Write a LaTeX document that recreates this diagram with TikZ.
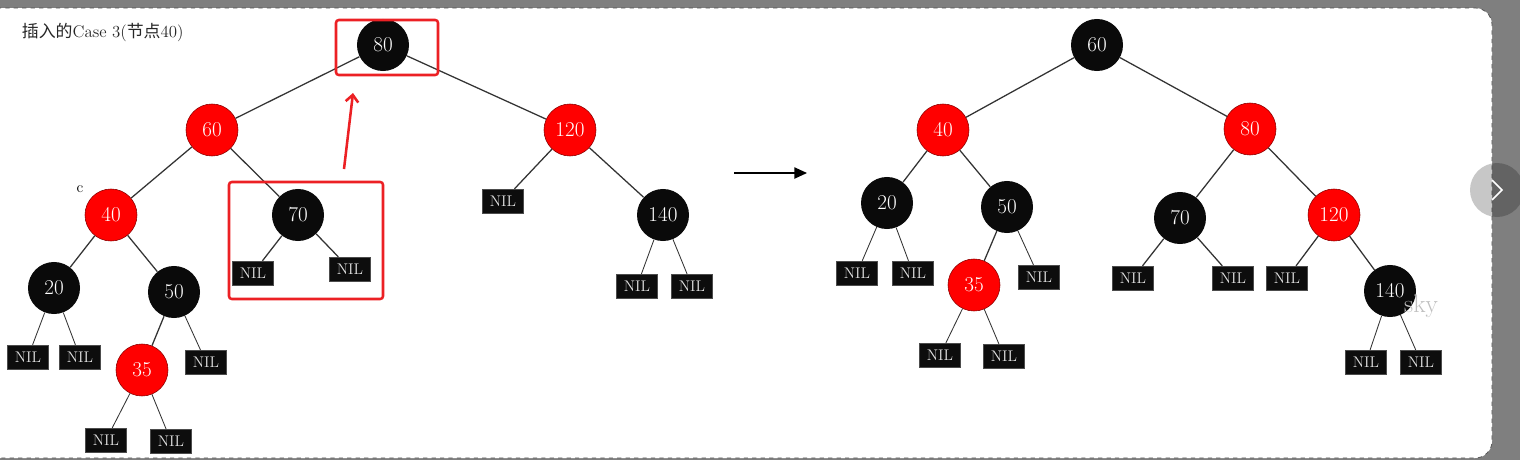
\documentclass[tikz,border=0pt]{standalone}
\usepackage{fontspec}
\newfontfamily\cjk{Noto Sans CJK SC}
\usetikzlibrary{arrows.meta}
\definecolor{rbred}{HTML}{FF0000}
\definecolor{boxred}{HTML}{EC2024}
\definecolor{edgegray}{HTML}{333333}
\definecolor{bggray}{HTML}{7F7F7F}
\tikzset{rbnode/.style = {circle, minimum size=1.3cm, inner sep=0pt, text=white, font=\fontsize{15}{15}\selectfont}}
\tikzset{blacknode/.style = {rbnode, fill=black!96}}
\tikzset{rednode/.style = {rbnode, fill=rbred, draw=red!55!black, line width=0.4pt}}
\tikzset{nilnode/.style = {fill=black!95, draw=black!70, line width=0.3pt, text=white!88!black, minimum width=29pt, minimum height=17pt, inner sep=0pt, font=\fontsize{11}{11}\selectfont}}
\tikzset{treeedge/.style = {draw=edgegray, line width=0.9pt}}
\tikzset{niledge/.style = {draw=edgegray, line width=0.6pt}}
\tikzset{markbox/.style = {draw=boxred, line width=1.8pt, rounded corners=2pt}}

\begin{document}
\begin{tikzpicture}[x=0.025cm, y=-0.025cm]
    \useasboundingbox (0,0) rectangle (1520,460);
    \fill[bggray] (0,0) rectangle (1520,460);
    \fill[white, rounded corners=12pt] (-20,8) -- (1492,8) -- (1492,458) -- (-20,458) -- cycle;
    \draw[black!70, dashed, line width=0.5pt, rounded corners=12pt] (-20,8) -- (1492,8) -- (1492,458) -- (-20,458);
    \fill[black, opacity=0.22] (1497,190) circle (27);
    \draw[white, line width=1.2pt] (1492,180) -- (1502,190) -- (1492,200);
    \node[anchor=west, text=black!85, font=\fontsize{12}{14}\selectfont] (title) at (17,32) {{\cjk 插入的}Case 3({\cjk 节点}40)};
    \node[blacknode] (l80) at (383,45) {80};
    \node[rednode] (l60) at (212,130) {60};
    \node[rednode] (l120) at (570,130) {120};
    \node[rednode] (l40) at (111,215) {40};
    \node[blacknode] (l70) at (298,215) {70};
    \node[blacknode] (l140) at (663,215) {140};
    \node[blacknode] (l20) at (54,288) {20};
    \node[blacknode] (l50) at (174,292) {50};
    \node[rednode] (l35) at (142,370) {35};
    \node[font=\fontsize{11}{11}\selectfont] (clabel) at (80,189) {c};
    \node[blacknode] (r60) at (1097,45) {60};
    \node[rednode] (r40) at (943,130) {40};
    \node[rednode] (r80) at (1250,129) {80};
    \node[blacknode] (r20) at (887,203) {20};
    \node[blacknode] (r50) at (1007,207) {50};
    \node[rednode] (r35) at (974,285) {35};
    \node[blacknode] (r70) at (1180,218) {70};
    \node[rednode] (r120) at (1334,215) {120};
    \node[blacknode] (r140) at (1390,291) {140};
    \node[text=black!25, font=\fontsize{18}{18}\selectfont] (mark) at (1421,306) {sky};
    \foreach \n/\x/\y in {la/28/357, lb/80/357, lc/206/362, ld/106/440, le/171/441, lf/253/273, lg/350/269, lh/503/201, li/637/286, lj/692/286,
        ra/857/273, rb/913/273, rc/1039/277, rd/940/355, re/1004/356, rf/1133/278, rg/1233/278, rh/1287/278, ri/1366/362, rj/1421/362}
        \node[nilnode] (\n) at (\x,\y) {NIL};
    \foreach \a/\b in {l80/l60, l80/l120, l60/l40, l60/l70, l40/l20, l40/l50, l50/l35, l120/l140,
        r60/r40, r60/r80, r40/r20, r40/r50, r50/r35, r80/r70, r80/r120, r120/r140}
        \draw[treeedge] (\a) -- (\b);
    \foreach \a/\b in {l20/la, l20/lb, l50/lc, l35/ld, l35/le, l140/li, l140/lj, r20/ra, r20/rb, r50/rc, r35/rd, r35/re, r140/ri, r140/rj}
        \draw[niledge] (\a) -- (\b);
    \foreach \a/\b in {l70/lf, l70/lg, l120/lh, r70/rf, r70/rg, r120/rh}
        \draw[treeedge] (\a) -- (\b);
    \draw[markbox] (336,20) rectangle (438,75);
    \draw[markbox] (229,182) rectangle (383,299);
    \coordinate (uptail) at (344,169);
    \coordinate (uphead) at (353,93);
    \draw[boxred, line width=1.8pt, -{Straight Barb[length=5pt, width=9pt]}] (uptail) -- (uphead);
    \coordinate (righttail) at (734,173);
    \coordinate (righthead) at (807,173);
    \draw[black, line width=1pt, -{Triangle[length=9pt, width=8pt]}] (righttail) -- (righthead);
\end{tikzpicture}
\end{document}
